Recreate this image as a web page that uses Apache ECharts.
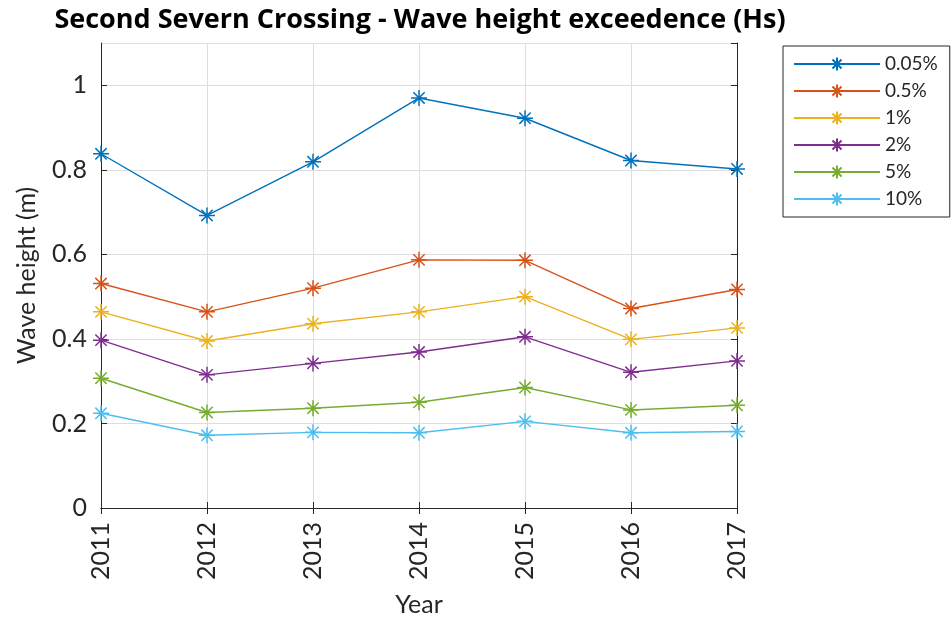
<!DOCTYPE html>
<html>
<head>
<meta charset="utf-8">
<script src="https://cdn.jsdelivr.net/npm/echarts@6/dist/echarts.min.js"></script>
<style>
html,body{margin:0;padding:0;background:#fff;}
#chart{width:952px;height:622px;}
</style>
</head>
<body>
<div id="chart"></div>
<script>
var years = ['2011','2012','2013','2014','2015','2016','2017'];
var seriesNames = ['0.05%','0.5%','1%','2%','5%','10%'];
var hs005 = [0.838, 0.692, 0.819, 0.970, 0.922, 0.822, 0.802];
var hs05  = [0.531, 0.464, 0.520, 0.587, 0.586, 0.472, 0.517];
var hs1   = [0.464, 0.395, 0.436, 0.464, 0.500, 0.399, 0.426];
var hs2   = [0.397, 0.315, 0.342, 0.369, 0.405, 0.321, 0.348];
var hs5   = [0.307, 0.226, 0.236, 0.250, 0.285, 0.232, 0.243];
var hs10  = [0.224, 0.172, 0.179, 0.178, 0.205, 0.178, 0.181];
var colors = ['#0072BD','#D95319','#EDB120','#7E2F8E','#77AC30','#4DBEEE'];
var allData = [hs005, hs05, hs1, hs2, hs5, hs10];

var FONT = 'Lato';
var TXT = '#262626';
var star = 'path://M0,-10L0,10M-10,0L10,0M-7.07,-7.07L7.07,7.07M-7.07,7.07L7.07,-7.07';

var series = seriesNames.map(function (n, i) {
  return {
    name: n,
    type: 'line',
    data: allData[i],
    symbol: star,
    symbolSize: 16,
    showAllSymbol: true,
    lineStyle: {color: colors[i], width: 1.4},
    itemStyle: {color: colors[i], borderColor: colors[i], borderWidth: 1.5},
    emphasis: {disabled: true},
    animation: false,
    z: 10
  };
});

var chart = echarts.init(document.getElementById('chart'), null, {renderer: 'canvas'});
chart.setOption({
  animation: false,
  backgroundColor: '#fff',
  color: colors,
  title: {
    text: 'Second Severn Crossing - Wave height exceedence (Hs)',
    left: 420,
    top: 7,
    padding: 0,
    textAlign: 'center',
    textStyle: {fontFamily: 'Open Sans', fontWeight: 'bold', fontSize: 27, color: '#000'}
  },
  legend: {
    orient: 'vertical',
    left: 783,
    top: 46,
    padding: [7, 12, 7, 10],
    itemWidth: 86,
    itemHeight: 16,
    itemGap: 5,
    backgroundColor: '#fff',
    borderColor: '#262626',
    borderWidth: 1,
    borderRadius: 0,
    textStyle: {fontFamily: FONT, fontSize: 19, lineHeight: 22, color: TXT},
    data: seriesNames
  },
  grid: {left: 101, right: 215, top: 43, bottom: 113, show: false},
  xAxis: [{
    type: 'category',
    data: years,
    boundaryGap: false,
    position: 'bottom',
    name: 'Year',
    nameLocation: 'middle',
    nameGap: 84,
    nameTextStyle: {fontFamily: FONT, fontSize: 25, color: TXT},
    axisLine: {show: true, lineStyle: {color: TXT, width: 1}},
    axisTick: {show: true, inside: true, length: 6, alignWithLabel: true, lineStyle: {color: TXT}},
    axisLabel: {rotate: 90, margin: 14, fontFamily: FONT, fontSize: 25, color: TXT},
    splitLine: {show: true, lineStyle: {color: '#dedede', width: 1}}
  }, {
    type: 'category',
    data: years,
    boundaryGap: false,
    position: 'top',
    axisLine: {show: true, lineStyle: {color: TXT, width: 1}},
    axisTick: {show: true, inside: true, length: 6, lineStyle: {color: TXT}},
    axisLabel: {show: false},
    splitLine: {show: false}
  }],
  yAxis: [{
    type: 'value',
    min: 0,
    max: 1.1,
    interval: 0.2,
    position: 'left',
    name: 'Wave height (m)',
    nameLocation: 'middle',
    nameGap: 62,
    nameRotate: 90,
    nameTextStyle: {fontFamily: FONT, fontSize: 25, color: TXT},
    axisLine: {show: true, lineStyle: {color: TXT, width: 1}},
    axisTick: {show: true, inside: true, length: 6, lineStyle: {color: TXT}},
    axisLabel: {
      margin: 14, fontFamily: FONT, fontSize: 25, color: TXT, showMaxLabel: false,
      formatter: function (v) { return (Math.round(v * 10) / 10).toString(); }
    },
    splitLine: {show: true, lineStyle: {color: '#dedede', width: 1}}
  }, {
    type: 'value',
    min: 0,
    max: 1.1,
    interval: 0.2,
    position: 'right',
    axisLine: {show: true, lineStyle: {color: TXT, width: 1}},
    axisTick: {show: true, inside: true, length: 6, lineStyle: {color: TXT}},
    axisLabel: {show: false},
    splitLine: {show: false}
  }],
  series: series
});
</script>
</body>
</html>
